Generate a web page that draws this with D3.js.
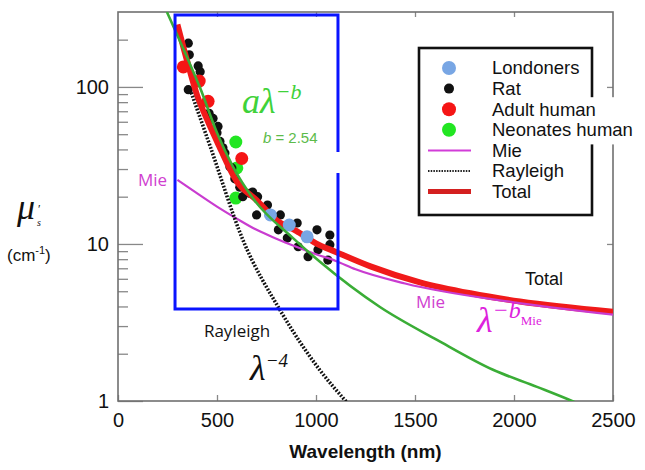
<!DOCTYPE html>
<html lang="en">
<head>
<meta charset="utf-8">
<title>Reduced scattering spectrum</title>
<script src="https://cdn.jsdelivr.net/npm/d3@7"></script>
<style>
 body { margin: 0; background: #fff; }
 svg { display: block; }
 .tick text { font-family: "Liberation Sans", Arial, sans-serif; font-size: 20px; fill: #111; }
</style>
</head>
<body>
<script>
// axis ticks
const ticksX = [0, 500, 1000, 1500, 2000, 2500];
const ticksYMajor = [1, 10, 100];
const ticksYMinor = [2, 3, 4, 5, 6, 7, 8, 9, 20, 30, 40, 50, 60, 70, 80, 90, 200];

// measured points [wavelength nm, mu_s' cm-1]
const ratPts = [[355,190],[360,160],[405,136],[415,125],[355,96],[460,68],[480,63],[505,56],
                [500,51],[515,45],[530,41],[540,38],[565,31],[575,30.5],[590,26],[615,23],
                [630,20],[665,21],[680,21.4],[705,20],[700,15.3],[755,17.7],[785,15],[820,15.3],
                [810,12.3],[855,10.9],[905,13.6],[910,9.6],[960,8.3],[1005,12.3],[1010,9.2],
                [1070,11.4],[1070,9.9],[1060,7.9]];
const adultPts = [[330,134],[410,109],[455,81],[625,35]];
const neonatePts = [[595,44.6],[600,30.5],[595,19.6]];
const londonPts = [[770,15.3],[865,13.2],[955,11.1]];

// model curves
const miePts = [[300,25.6],[400,21],[500,17.3],[600,14.5],[700,12.3],[800,10.8],[900,9.6],
                [1000,8.6],[1100,7.8],[1200,6.9],[1450,5.6],[2000,4.25],[2500,3.55]];
const rayleighPts = [[370,92],[465,42],[631,10.6],[818,3.8],[1020,1.57],[1150,1],[1200,0.85]];
const totalPts = [[300,250],[350,145],[400,88],[450,62],[500,45],[600,25],[700,19],[800,14.2],
                  [900,12.1],[1000,10.1],[1100,8.9],[1275,7.2],[1525,5.7],[1780,4.85],[2030,4.3],[2500,3.7]];
const powerPts = [[247,300],[348,155],[414,99],[500,51],[581,31],[682,19.5],[884,10.9],
                  [1020,7.7],[1323,3.97],[1611,2.45],[1894,1.58],[2116,1.23],[2293,1],[2350,0.93]];

// blue selection box
const boxLambda = [288, 1111];
const boxMu = [3.86, 287];
const boxGap = [28.3, 38.5];

const legendLabels = ["Londoners", "Rat", "Adult human", "Neonates human", "Mie", "Rayleigh", "Total"];

const w = 645, h = 470;
const margin = {top: 12, right: 32, bottom: 69, left: 118};

const svg = d3.select("body").append("svg").attr("width", w).attr("height", h);

const x = d3.scaleLinear().domain([0, 2500]).range([margin.left, w - margin.right]);
const y = d3.scaleLog().domain([1, 300]).range([h - margin.bottom, margin.top]);

const sans = '"Liberation Sans", Arial, sans-serif';
const serif = '"Liberation Serif", "Times New Roman", serif';
const soft = '"Open Sans", "Noto Sans", sans-serif';

// ticks (inside)
const tickColor = "#888";
function styleAxis(g) {
  g.select(".domain").remove();
  g.selectAll(".tick line").attr("stroke", tickColor).attr("stroke-width", 1.3);
}
svg.append("g").attr("transform", `translate(0,${y(1)})`)
   .call(d3.axisBottom(x).tickValues(ticksX).tickSizeInner(-6).tickSizeOuter(0).tickPadding(12).tickFormat(d3.format("d")))
   .call(styleAxis);
svg.append("g").attr("transform", `translate(0,${y(300)})`)
   .call(d3.axisTop(x).tickValues(ticksX.slice(1, -1)).tickSizeInner(-5).tickSizeOuter(0).tickFormat(""))
   .call(styleAxis);
svg.append("g").attr("transform", `translate(${x(0)},0)`)
   .call(d3.axisLeft(y).tickValues(ticksYMajor).tickSizeInner(-25).tickSizeOuter(0).tickPadding(9).tickFormat(d3.format("d")))
   .call(styleAxis);
svg.append("g").attr("transform", `translate(${x(0)},0)`)
   .call(d3.axisLeft(y).tickValues(ticksYMinor).tickSizeInner(-10).tickSizeOuter(0).tickFormat(""))
   .call(styleAxis);
svg.append("g").attr("transform", `translate(${x(2500)},0)`)
   .call(d3.axisRight(y).tickValues([10, 100]).tickSizeInner(-6).tickSizeOuter(0).tickFormat(""))
   .call(styleAxis);

// frame
svg.append("rect")
   .attr("x", x(0)).attr("y", y(300))
   .attr("width", x(2500) - x(0)).attr("height", y(1) - y(300))
   .attr("fill", "none").attr("stroke", "#707070").attr("stroke-width", 1.6);

svg.append("clipPath").attr("id", "plot")
   .append("rect")
   .attr("x", x(0)).attr("y", y(300))
   .attr("width", x(2500) - x(0)).attr("height", y(1) - y(300));

const plot = svg.append("g").attr("clip-path", "url(#plot)");
const line = d3.line().x(d => x(d[0])).y(d => y(d[1])).curve(d3.curveMonotoneX);

function dots(data, r, fill) {
  plot.append("g").selectAll("circle")
      .data(data).enter().append("circle")
      .attr("cx", d => x(d[0])).attr("cy", d => y(d[1]))
      .attr("r", r).attr("fill", fill);
}

dots(neonatePts, 6.5, "#22e622");
dots(ratPts, 4.6, "#111");
plot.append("path").attr("d", line(totalPts)).attr("fill", "none")
    .attr("stroke", "#f01a1a").attr("stroke-width", 6);
dots(adultPts, 6.5, "#f51515");
plot.append("path").attr("d", line(miePts)).attr("fill", "none")
    .attr("stroke", "#c93cd0").attr("stroke-width", 2.2);
plot.append("path").attr("d", line(rayleighPts)).attr("fill", "none")
    .attr("stroke", "#111").attr("stroke-width", 3.6).attr("stroke-dasharray", "1.8 1.6");
dots(londonPts, 6.5, "#78a6e4");
plot.append("path").attr("d", line(powerPts)).attr("fill", "none")
    .attr("stroke", "#3aad36").attr("stroke-width", 2.6);

// blue box with a gap on its right side
const bx0 = x(boxLambda[0]), bx1 = x(boxLambda[1]);
const by0 = y(boxMu[1]), by1 = y(boxMu[0]);
svg.append("path")
   .attr("d", `M${bx1},${y(boxGap[0])}L${bx1},${by1}L${bx0},${by1}L${bx0},${by0}L${bx1},${by0}L${bx1},${y(boxGap[1])}`)
   .attr("fill", "none").attr("stroke", "#0a14ff").attr("stroke-width", 3);

// annotations
function label(lam, mu, txt, opts) {
  return svg.append("text").attr("x", x(lam)).attr("y", y(mu))
     .attr("font-family", opts.font).attr("font-size", opts.size)
     .attr("font-style", opts.italic ? "italic" : null)
     .attr("fill", opts.color).text(txt);
}

const aLab = label(626, 68.3, null, {font: serif, size: 36, italic: true, color: "#3fd23a"});
aLab.append("tspan").text("aλ");
aLab.append("tspan").attr("font-size", 22).attr("dy", -14).text("−b");

const bLab = label(732, 44, null, {font: sans, size: 15, color: "#5cbb4a"});
bLab.append("tspan").attr("font-style", "italic").text("b");
bLab.append("tspan").text(" = 2.54");

label(101, 23.4, "Mie", {font: soft, size: 17, color: "#d040d0"});
label(434, 2.56, "Rayleigh", {font: soft, size: 17, color: "#111"});

const l4 = label(667, 1.36, null, {font: serif, size: 36, italic: true, color: "#111"});
l4.append("tspan").text("λ");
l4.append("tspan").attr("font-size", 19).attr("dy", -13).text("−4");

label(2056, 5.48, "Total", {font: sans, size: 18, color: "#111"});
label(1505, 3.91, "Mie", {font: soft, size: 17, color: "#d040d0"});

const lm = label(1813, 2.75, null, {font: serif, size: 36, italic: true, color: "#dd22dd"});
lm.append("tspan").text("λ");
lm.append("tspan").attr("font-size", 24).attr("dy", -14).text("−b");
lm.append("tspan").attr("font-size", 13).attr("font-style", "normal").attr("dy", 7).text("Mie");

// y-axis title
svg.append("text").attr("x", 17).attr("y", 219)
   .attr("font-family", serif).attr("font-style", "italic").attr("font-size", 36).attr("fill", "#111").text("μ");
svg.append("text").attr("x", 37).attr("y", 226)
   .attr("font-family", serif).attr("font-style", "italic").attr("font-size", 10).attr("fill", "#111").text("s");
svg.append("text").attr("x", 38).attr("y", 213)
   .attr("font-family", serif).attr("font-size", 12).attr("fill", "#111").text("′");
const unit = svg.append("text").attr("x", 7).attr("y", 261)
   .attr("font-family", sans).attr("font-size", 17).attr("fill", "#111");
unit.append("tspan").text("(cm");
unit.append("tspan").attr("font-size", 11).attr("dy", -7).text("-1");
unit.append("tspan").attr("dy", 7).text(")");

// x-axis title
svg.append("text").attr("x", (x(0) + x(2500)) / 2 + 0).attr("y", 458)
   .attr("text-anchor", "middle").attr("font-family", sans).attr("font-weight", "bold")
   .attr("font-size", 19).attr("fill", "#111").text("Wavelength (nm)");

// legend
const lg = svg.append("g");
const rowY = i => 68 + i * 20.6;
lg.append("rect").attr("x", 419).attr("y", 48).attr("width", 173).attr("height", 167)
  .attr("fill", "#fff").attr("stroke", "#111").attr("stroke-width", 2.6);
// text block background covering the frame where the long label overflows
lg.append("rect").attr("x", 590).attr("y", rowY(2) - 12).attr("width", 55).attr("height", rowY(4) - rowY(2) + 6)
  .attr("fill", "#fff");

const markFill = ["#78a6e4", "#111", "#f51515", "#22e622"];
const markR = [7, 5, 7, 7];
lg.selectAll("circle").data(legendLabels.slice(0, 4)).enter().append("circle")
  .attr("cx", 449).attr("cy", (d, i) => rowY(i))
  .attr("r", (d, i) => markR[i]).attr("fill", (d, i) => markFill[i]);

const lineStyles = [
  {stroke: "#d23cd8", width: 2, dash: null},
  {stroke: "#222", width: 2, dash: "1.5 1.2"},
  {stroke: "#d42020", width: 5, dash: null}
];
lg.selectAll("line").data(lineStyles).enter().append("line")
  .attr("x1", 428).attr("x2", 471)
  .attr("y1", (d, i) => rowY(i + 4)).attr("y2", (d, i) => rowY(i + 4))
  .attr("stroke", d => d.stroke).attr("stroke-width", d => d.width)
  .attr("stroke-dasharray", d => d.dash);

lg.selectAll("text").data(legendLabels).enter().append("text")
  .attr("x", 492).attr("y", (d, i) => rowY(i)).attr("dy", "0.35em")
  .attr("font-family", sans).attr("font-size", 18.5).attr("fill", "#111")
  .text(d => d);
</script>
</body>
</html>
